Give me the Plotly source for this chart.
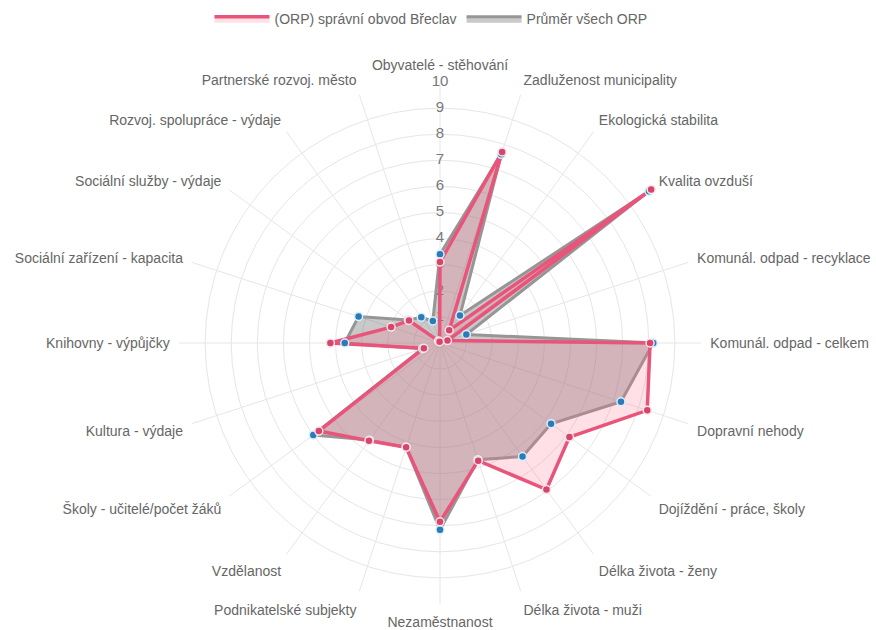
import plotly.graph_objects as go

categories = [
    "Obyvatelé - stěhování",
    "Zadluženost municipality",
    "Ekologická stabilita",
    "Kvalita ovzduší",
    "Komunál. odpad - recyklace",
    "Komunál. odpad - celkem",
    "Dopravní nehody",
    "Dojíždění - práce, školy",
    "Délka života - ženy",
    "Délka života - muži",
    "Nezaměstnanost",
    "Podnikatelské subjekty",
    "Vzdělanost",
    "Školy - učitelé/počet žáků",
    "Kultura - výdaje",
    "Knihovny - výpůjčky",
    "Sociální zařízení - kapacita",
    "Sociální služby - výdaje",
    "Rozvoj. spolupráce - výdaje",
    "Partnerské rozvoj. město",
]

breclav = [3.1, 7.7, 0.6, 10.0, 0.3, 8.05, 8.35, 6.13, 6.94, 4.74,
           6.85, 4.2, 4.63, 5.74, 0.65, 4.2, 1.97, 1.47, 0.1, 0.05]
average = [3.4, 7.6, 1.3, 9.9, 1.06, 8.17, 7.29, 5.26, 5.38, 4.7,
           7.16, 4.2, 4.6, 6.0, 0.7, 3.65, 3.28, 1.5, 1.22, 0.89]

tick_values = [1, 2, 3, 4, 5, 6, 7, 8, 9, 10]
tick_labels = [str(v) for v in tick_values]

name_red = "(ORP) správní obvod Břeclav"
name_gray = "Průměr všech ORP"

FONT = "Liberation Sans, Arial, sans-serif"
RED = "rgb(232,84,122)"
GRAY = "rgb(150,150,150)"


def closed(vals):
    return list(vals) + [vals[0]]


fig = go.Figure()

# radial tick labels (drawn under the data, centered on the axis)
fig.add_trace(go.Scatterpolar(
    r=tick_values, theta=[categories[0]] * len(tick_values),
    mode="text", text=tick_labels,
    textfont=dict(size=15, color="#777777", family=FONT,
                  shadow="0px 0px 3px white"),
    textposition="middle center",
    showlegend=False, hoverinfo="skip",
))

# average polygon
fig.add_trace(go.Scatterpolar(
    r=closed(average), theta=closed(categories),
    mode="lines", fill="toself",
    fillcolor="rgba(120,120,120,0.4)",
    line=dict(color=GRAY, width=3),
    name=name_gray,
))
# Břeclav polygon
fig.add_trace(go.Scatterpolar(
    r=closed(breclav), theta=closed(categories),
    mode="lines", fill="toself",
    fillcolor="rgba(255,99,132,0.2)",
    line=dict(color=RED, width=3.5),
    name=name_red,
))
# markers
fig.add_trace(go.Scatterpolar(
    r=average, theta=categories, mode="markers",
    marker=dict(size=8, color="#2b7bba", line=dict(color="#d6f0f8", width=1.5)),
    showlegend=False, hoverinfo="skip",
))
fig.add_trace(go.Scatterpolar(
    r=breclav, theta=categories, mode="markers",
    marker=dict(size=8, color="#d6456a", line=dict(color="#fde3ea", width=1.5)),
    showlegend=False, hoverinfo="skip",
))

fig.update_layout(
    width=876, height=630,
    margin=dict(l=0, r=0, t=0, b=0),
    paper_bgcolor="white",
    font=dict(family=FONT, size=14, color="#666666"),
    legend=dict(
        orientation="h", x=0.492, xanchor="center", y=0.995, yanchor="top",
        font=dict(size=14, color="#666666"), traceorder="reversed",
        itemwidth=55,
    ),
    polar=dict(
        domain=dict(x=[4 / 876, 1.0], y=[0.0413, 0.8698]),
        bgcolor="white",
        radialaxis=dict(
            range=[0, 10], dtick=1, showticklabels=False, ticks="",
            showline=False, gridcolor="#e6e6e6", gridwidth=1, angle=90,
            layer="below traces",
        ),
        angularaxis=dict(
            direction="clockwise", rotation=90, gridcolor="#e6e6e6",
            showline=False, ticks="outside", ticklen=6,
            tickcolor="rgba(0,0,0,0)", layer="below traces",
            tickfont=dict(size=14, color="#666666", family=FONT),
        ),
    ),
)

fig.write_html(
    "out.html",
    config={"displayModeBar": False},
    post_script="document.body.style.margin='0';document.body.style.overflow='hidden';",
)
